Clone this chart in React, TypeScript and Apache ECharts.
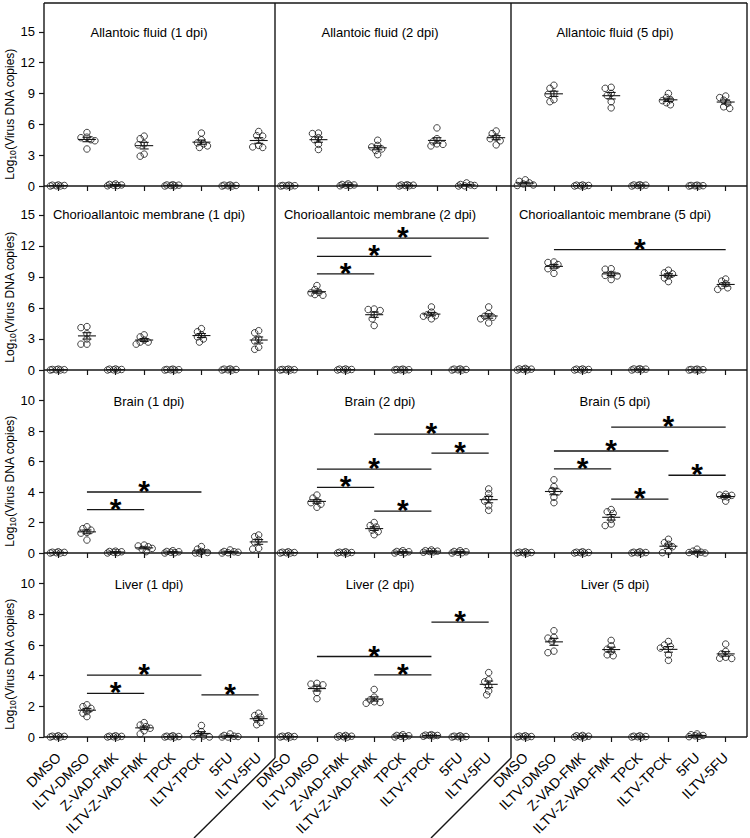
import React, { useEffect, useRef } from 'react';
import * as echarts from 'echarts';

const CATEGORIES = ['DMSO', 'ILTV-DMSO', 'Z-VAD-FMK', 'ILTV-Z-VAD-FMK', 'TPCK', 'ILTV-TPCK', '5FU', 'ILTV-5FU'];

const PANEL_TITLES = [
  'Allantoic fluid (1 dpi)', 'Allantoic fluid (2 dpi)', 'Allantoic fluid (5 dpi)',
  'Chorioallantoic membrane (1 dpi)', 'Chorioallantoic membrane (2 dpi)', 'Chorioallantoic membrane (5 dpi)',
  'Brain (1 dpi)', 'Brain (2 dpi)', 'Brain (5 dpi)',
  'Liver (1 dpi)', 'Liver (2 dpi)', 'Liver (5 dpi)',
];

const Y_TICKS_UPPER = [0, 3, 6, 9, 12, 15];
const Y_TICKS_LOWER = [0, 2, 4, 6, 8, 10];

// near-zero replicate sets
const Z1 = [0.05, 0, 0.1, 0.02, 0.08, 0];
const Z2 = [0.1, 0.05, 0.15, 0.2, 0.02, 0.08];
const Z3 = [0.05, 0.1, 0, 0.12, 0.03, 0.08];
const Z4 = [0.02, 0.05, 0, 0.08, 0.03, 0];

// Allantoic fluid
const AF_1DPI = [Z1, [5.2, 4.75, 4.7, 4.5, 4.4, 3.6], Z2, [4.85, 4.6, 4.1, 4.0, 3.1, 2.9], Z3, [5.15, 4.5, 4.2, 4.1, 3.9, 3.75], Z1, [5.3, 4.9, 4.85, 3.95, 3.8, 3.75]];
const AF_2DPI = [Z4, [5.15, 5.1, 4.7, 4.5, 4.05, 3.55], Z2, [4.45, 3.95, 3.8, 3.6, 3.45, 3.05], Z3, [5.65, 4.6, 4.3, 4.1, 4.05, 3.9], [0.3, 0.15, 0.05, 0.1, 0, 0.02], [5.35, 5.1, 4.75, 4.6, 4.4, 4.0]];
const AF_5DPI = [[0.6, 0.45, 0.3, 0.2, 0.1, 0.05], [9.8, 9.5, 9.0, 8.9, 8.4, 8.2], Z1, [9.6, 9.5, 9.0, 8.8, 8.2, 7.6], Z3, [9.0, 8.6, 8.4, 8.3, 8.1, 7.9], Z4, [8.75, 8.6, 8.35, 8.05, 7.7, 7.55]];
// Chorioallantoic membrane
const CAM_1DPI = [Z4, [4.2, 4.1, 3.5, 3.0, 2.5, 2.5], Z1, [3.4, 3.2, 2.9, 2.7, 2.5, 2.7], Z4, [4.0, 3.7, 3.4, 3.2, 3.0, 2.7], Z1, [3.8, 3.6, 3.0, 2.8, 2.2, 2.0]];
const CAM_2DPI = [Z4, [8.17, 7.78, 7.52, 7.46, 7.3, 7.23], Z1, [5.9, 5.85, 5.75, 5.35, 4.95, 4.3], Z4, [6.1, 5.6, 5.35, 5.25, 5.2, 4.95], Z1, [6.1, 5.45, 5.2, 5.1, 4.95, 4.55]];
const CAM_5DPI = [[0.15, 0.05, 0.1, 0, 0.08, 0.02], [10.45, 10.4, 10.2, 9.95, 9.8, 9.35], Z1, [9.8, 9.75, 9.25, 9.15, 9.1, 8.75], Z3, [9.65, 9.4, 9.3, 9.1, 8.9, 8.55], Z4, [8.8, 8.6, 8.35, 8.15, 7.95, 7.8]];
// Brain
const BR_1DPI = [[0.05, 0, 0.08, 0.02, 0.04, 0], [1.72, 1.6, 1.5, 1.35, 1.3, 0.85], [0.1, 0.05, 0, 0.08, 0.03, 0.12], [0.52, 0.46, 0.41, 0.3, 0.24, 0.09], [0.15, 0.08, 0.05, 0.1, 0.02, 0], [0.42, 0.25, 0.1, 0.03, 0, 0], [0.2, 0.1, 0.05, 0.08, 0.02, 0], [1.18, 1.07, 0.85, 0.7, 0.3, 0.26]];
const BR_2DPI = [Z4, [3.8, 3.6, 3.4, 3.3, 3.2, 3.0], Z4, [2.0, 1.8, 1.7, 1.5, 1.4, 1.2], [0.15, 0.1, 0.05, 0.02, 0, 0.08], [0.2, 0.15, 0.1, 0.08, 0.05, 0.12], [0.15, 0.1, 0.05, 0.02, 0, 0.08], [4.2, 3.9, 3.6, 3.4, 3.1, 2.8]];
const BR_5DPI = [Z4, [4.8, 4.35, 4.1, 4.0, 3.65, 3.3], Z4, [2.85, 2.7, 2.6, 2.2, 1.9, 1.8], Z4, [0.9, 0.68, 0.57, 0.41, 0.09, 0.02], [0.25, 0.12, 0.05, 0.03, 0, 0], [3.85, 3.8, 3.78, 3.7, 3.68, 3.4]];
// Liver
const LV_1DPI = [[0.05, 0, 0.08, 0.02, 0.04, 0], [2.1, 1.98, 1.87, 1.66, 1.55, 1.33], [0.05, 0, 0.08, 0.02, 0.04, 0], [0.94, 0.78, 0.68, 0.57, 0.41, 0.2], Z4, [0.75, 0.35, 0.2, 0.07, 0.02, 0], [0.2, 0.1, 0.05, 0.03, 0, 0], [1.55, 1.4, 1.3, 1.15, 0.95, 0.8]];
const LV_2DPI = [Z4, [3.5, 3.45, 3.4, 3.2, 2.9, 2.5], Z1, [3.1, 2.6, 2.42, 2.3, 2.25, 2.2], [0.15, 0.05, 0.1, 0, 0.08, 0.02], [0.12, 0.1, 0.15, 0.08, 0.05, 0.1], Z4, [4.2, 3.73, 3.6, 3.33, 3.0, 2.75]];
const LV_5DPI = [Z4, [6.93, 6.5, 6.45, 6.25, 5.6, 5.5], Z1, [6.3, 5.95, 5.73, 5.58, 5.36, 5.3], Z4, [6.23, 6.0, 5.9, 5.8, 5.36, 5.0], [0.15, 0.05, 0.1, 0.2, 0.02, 0.08], [6.06, 5.58, 5.42, 5.2, 5.14, 5.12]];

const PANEL_DATA = [AF_1DPI, AF_2DPI, AF_5DPI, CAM_1DPI, CAM_2DPI, CAM_5DPI, BR_1DPI, BR_2DPI, BR_5DPI, LV_1DPI, LV_2DPI, LV_5DPI];

// significance bars: [from category index, to category index, y value]
const SIG_CAM_2DPI = [[1, 3, 9.3], [1, 5, 11.0], [1, 7, 12.75]];
const SIG_CAM_5DPI = [[1, 7, 11.64]];
const SIG_BR_1DPI = [[1, 3, 2.85], [1, 5, 4.0]];
const SIG_BR_2DPI = [[3, 7, 7.8], [5, 7, 6.55], [1, 5, 5.5], [1, 3, 4.3], [3, 5, 2.75]];
const SIG_BR_5DPI = [[3, 7, 8.26], [1, 5, 6.69], [1, 3, 5.51], [5, 7, 5.1], [3, 5, 3.53]];
const SIG_LV_1DPI = [[1, 3, 2.85], [1, 5, 4.03], [5, 7, 2.75]];
const SIG_LV_2DPI = [[5, 7, 7.49], [1, 5, 5.25], [3, 5, 4.05]];
const PANEL_SIG = [[], [], [], [], SIG_CAM_2DPI, SIG_CAM_5DPI, SIG_BR_1DPI, SIG_BR_2DPI, SIG_BR_5DPI, SIG_LV_1DPI, SIG_LV_2DPI, []];

// layout
const COL_LEFT = [44, 274, 511];
const PANEL_W = [229, 237, 229, 229, 229, 229, 229, 229, 229, 229, 229, 229];
const TITLE_X = [149, 380, 615];
const TITLE_DY = [29, 28.5, 31, 31];
const ROW_TOP = [3, 186, 370, 553];
const ROW_H = [183, 184, 183, 184];
const ROW_MAX = [17.8, 17.8, 12, 12];
const FONT = 'Arial, "Liberation Sans", Helvetica, sans-serif';
const INK = '#161616';

function swarmOffsets(values: number[], ppu: number): number[] {
  const order = values.map((_, i) => i).sort((a, b) => values[b] - values[a]);
  const cands = [0, -2, 2, -4, 4, -6, 6, -8, 8];
  const D = 4.3;
  const placed: { x: number; y: number }[] = [];
  const offs = new Array(values.length).fill(0);
  for (const idx of order) {
    const py = values[idx] * ppu;
    let chosen = 0;
    let bestScore = -1;
    for (const c of cands) {
      let minD = Infinity;
      for (const p of placed) minD = Math.min(minD, Math.hypot(c - p.x, py - p.y));
      if (minD >= D) { chosen = c; break; }
      if (minD > bestScore) { bestScore = minD; chosen = c; }
    }
    placed.push({ x: chosen, y: py });
    offs[idx] = chosen;
  }
  return offs;
}

function meanSem(v: number[]) {
  const n = v.length;
  const m = v.reduce((a, b) => a + b, 0) / n;
  const sd = Math.sqrt(v.reduce((a, b) => a + (b - m) * (b - m), 0) / (n - 1));
  return [m, sd / Math.sqrt(n)];
}

function buildOption() {
  const grid: any[] = [];
  const xAxis: any[] = [];
  const yAxis: any[] = [];
  const series: any[] = [];
  const graphic: any[] = [];

  for (let r = 0; r < 4; r++) {
    for (let c = 0; c < 3; c++) {
      const p = r * 3 + c;
      const ticks = r < 2 ? Y_TICKS_UPPER : Y_TICKS_LOWER;
      grid.push({ left: COL_LEFT[c], top: ROW_TOP[r], width: PANEL_W[p], height: ROW_H[r], containLabel: false, outerBoundsMode: 'none' });
      xAxis.push({
        type: 'category', gridIndex: p, data: CATEGORIES, boundaryGap: true,
        axisLine: { show: false },
        axisTick: { show: true, alignWithLabel: true, interval: 0, length: 5, lineStyle: { color: INK, width: 1.2 } },
        axisLabel: { show: r === 3, interval: 0, rotate: 45, fontSize: 14, color: '#000', margin: 18, fontFamily: FONT },
        splitLine: { show: false },
      });
      yAxis.push({
        type: 'value', gridIndex: p, min: 0, max: ROW_MAX[r], interval: r < 2 ? 3 : 2,
        axisLine: { show: false },
        axisTick: { show: c === 0, length: 5, customValues: ticks, lineStyle: { color: INK, width: 1.2 } },
        axisLabel: { show: c === 0, customValues: ticks, fontSize: 13, color: '#000', margin: 9, fontFamily: FONT },
        splitLine: { show: false },
      });

      const ppu = ROW_H[r] / ROW_MAX[r];
      const groups = PANEL_DATA[p];
      const pts: any[] = [];
      const stats: any[] = [];
      groups.forEach((vals, ci) => {
        const offs = swarmOffsets(vals, ppu);
        vals.forEach((v, k) => pts.push({ value: [ci, v], symbolOffset: [offs[k], 0] }));
        const [m, s] = meanSem(vals);
        stats.push([ci, m, s]);
      });

      series.push({
        type: 'custom', xAxisIndex: p, yAxisIndex: p, data: stats, clip: false, silent: true,
        renderItem: (_params: any, api: any) => {
          const x = api.value(0), m = api.value(1), s = api.value(2);
          const cm = api.coord([x, m]);
          const ct = api.coord([x, m + s]);
          const cb = api.coord([x, m - s]);
          const st = { stroke: INK, lineWidth: 1.1 };
          return {
            type: 'group',
            children: [
              { type: 'line', shape: { x1: cm[0] - 9, y1: cm[1], x2: cm[0] + 9, y2: cm[1] }, style: st },
              { type: 'line', shape: { x1: cm[0], y1: ct[1], x2: cm[0], y2: cb[1] }, style: st },
              { type: 'line', shape: { x1: cm[0] - 4.5, y1: ct[1], x2: cm[0] + 4.5, y2: ct[1] }, style: st },
              { type: 'line', shape: { x1: cm[0] - 4.5, y1: cb[1], x2: cm[0] + 4.5, y2: cb[1] }, style: st },
            ],
          };
        },
      });

      series.push({
        type: 'scatter', xAxisIndex: p, yAxisIndex: p, data: pts, clip: false, silent: true,
        symbol: 'circle', symbolSize: 6.5,
        itemStyle: { color: 'rgba(255,255,255,0)', borderColor: INK, borderWidth: 1 },
      });

      if (PANEL_SIG[p].length) {
        series.push({
          type: 'custom', xAxisIndex: p, yAxisIndex: p, data: PANEL_SIG[p], clip: false, silent: true,
          renderItem: (_params: any, api: any) => {
            const a = api.coord([api.value(0), api.value(2)]);
            const b = api.coord([api.value(1), api.value(2)]);
            return {
              type: 'group',
              children: [
                { type: 'line', shape: { x1: a[0], y1: a[1], x2: b[0], y2: b[1] }, style: { stroke: INK, lineWidth: 1.3 } },
                { type: 'text', style: { text: '*', x: (a[0] + b[0]) / 2, y: a[1] - 1.5, align: 'center', verticalAlign: 'middle', lineHeight: 14, font: `bold 30px ${FONT}`, fill: '#000' } },
              ],
            };
          },
        });
      }

      graphic.push({
        type: 'text', silent: true,
        style: { text: PANEL_TITLES[p], x: TITLE_X[c], y: ROW_TOP[r] + TITLE_DY[r], align: 'center', verticalAlign: 'middle', font: `13px ${FONT}`, fill: '#000' },
      });
    }
    graphic.push({
      type: 'text', silent: true, x: 10, y: ROW_TOP[r] + 111, rotation: Math.PI / 2,
      style: {
        text: '{a|Log}{b|10}{a|(Virus DNA copies)}', align: 'center', verticalAlign: 'middle', fill: '#000',
        rich: { a: { fontSize: 12, fontFamily: FONT, lineHeight: 14, verticalAlign: 'middle' }, b: { fontSize: 8.5, fontFamily: FONT, lineHeight: 14, verticalAlign: 'bottom' } },
      },
    });
  }

  const ln = (x1: number, y1: number, x2: number, y2: number) => ({
    type: 'line', silent: true, shape: { x1, y1, x2, y2 }, style: { stroke: INK, lineWidth: 1.4 },
  });
  graphic.push(ln(44, 3, 44, 737));
  graphic.push(ln(275, 3, 275, 758));
  graphic.push(ln(511, 3, 511, 758));
  graphic.push(ln(747, 3, 747, 737));
  [3, 186, 370, 553, 737].forEach((y) => graphic.push(ln(44, y, 747, y)));
  graphic.push(ln(275, 758, 194, 838));
  graphic.push(ln(511, 758, 431, 838));

  return { animation: false, backgroundColor: '#fff', grid, xAxis, yAxis, series, graphic };
}

export default function App() {
  const ref = useRef<HTMLDivElement>(null);
  useEffect(() => {
    if (!ref.current) return;
    const chart = echarts.init(ref.current, undefined, { renderer: 'svg' });
    chart.setOption(buildOption() as any);
    return () => chart.dispose();
  }, []);
  return <div ref={ref} style={{ position: 'fixed', left: 0, top: 0, width: 750, height: 838, background: '#fff' }} />;
}
